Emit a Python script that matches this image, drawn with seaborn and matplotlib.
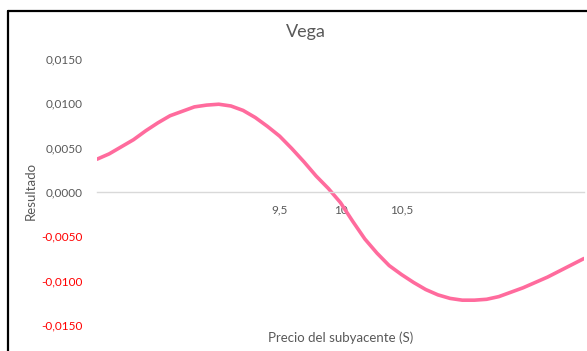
import matplotlib
matplotlib.use("Agg")
import matplotlib.pyplot as plt
import matplotlib.lines as mlines
import seaborn as sns
import pandas as pd

# Underlying price (S) and the resulting vega value
precio = [8.0, 8.1, 8.2, 8.3, 8.4, 8.5, 8.6, 8.7, 8.8, 8.9,
          9.0, 9.1, 9.2, 9.3, 9.4, 9.5, 9.6, 9.7, 9.8, 9.9,
          10.0, 10.1, 10.2, 10.3, 10.4, 10.5, 10.6, 10.7, 10.8, 10.9,
          11.0, 11.1, 11.2, 11.3, 11.4, 11.5, 11.6, 11.7, 11.8, 11.9, 12.0]
resultado = [0.0037, 0.0043, 0.0051, 0.0059, 0.0069, 0.0078, 0.0086, 0.0091, 0.0096, 0.0098,
             0.0099, 0.0097, 0.0092, 0.0084, 0.0074, 0.0063, 0.0049, 0.0034, 0.0018, 0.0004,
             -0.0012, -0.0033, -0.0053, -0.0069, -0.0083, -0.0093, -0.0102, -0.0110, -0.0116, -0.0120,
             -0.0122, -0.0122, -0.0121, -0.0118, -0.0113, -0.0108, -0.0102, -0.0096, -0.0089, -0.0082, -0.0075]

x_ticks = [9.5, 10.0, 10.5]
x_tick_labels = ["9,5", "10", "10,5"]
y_ticks = [-0.015, -0.010, -0.005, 0.0, 0.005, 0.010, 0.015]

df = pd.DataFrame({"Precio": precio, "Resultado": resultado})

sns.set_style("white")
plt.rcParams["font.family"] = ["Lato", "DejaVu Sans"]

W, H = 587, 351
fig = plt.figure(figsize=(W / 100, H / 100), dpi=100)
fig.patch.set_facecolor("white")

ax = fig.add_axes([97 / W, (H - 325) / H, 487 / W, 266 / H])
sns.lineplot(data=df, x="Precio", y="Resultado", ax=ax,
             color="#FF6B9D", linewidth=2.6, solid_capstyle="round",
             solid_joinstyle="round")

ax.set_xlim(8.0, 12.0)
ax.set_ylim(-0.015, 0.015)

# horizontal axis crosses at zero
for s in ["top", "right", "left"]:
    ax.spines[s].set_visible(False)
ax.spines["bottom"].set_position(("data", 0))
ax.spines["bottom"].set_color("#D9D9D9")
ax.spines["bottom"].set_linewidth(1.0)

ax.set_xticks(x_ticks)
ax.set_xticklabels(x_tick_labels)
ax.set_yticks(y_ticks)
ax.set_yticklabels([("%.4f" % v).replace(".", ",") if v != 0 else "0,0000"
                    for v in y_ticks])
ax.tick_params(axis="x", length=0, pad=9, labelsize=8.5, labelcolor="#595959")
ax.tick_params(axis="y", length=0, pad=10, labelsize=8.5)
for lbl, v in zip(ax.get_yticklabels(), y_ticks):
    lbl.set_color("#FF0000" if v < 0 else "#595959")

ax.set_xlabel("")
ax.set_ylabel("")

fig.text(306 / W, 1 - 36.5 / H, "Vega", ha="center", va="baseline",
         fontsize=13, color="#595959")
fig.text(341 / W, 1 - 338 / H, "Precio del subyacente (S)", ha="center",
         va="center", fontsize=9.5, color="#595959")
fig.text(31 / W, 1 - 191 / H, "Resultado", ha="center", va="center",
         rotation=90, fontsize=9.5, color="#595959")

# chart frame on the left and top edges
fig.add_artist(mlines.Line2D([7.5 / W, 7.5 / W], [0, 1 - 11 / H],
                             transform=fig.transFigure, color="black", lw=1.6))
fig.add_artist(mlines.Line2D([7.5 / W, 1], [1 - 11 / H, 1 - 11 / H],
                             transform=fig.transFigure, color="black", lw=1.6))

fig.savefig("out.png", dpi=100, facecolor="white")
